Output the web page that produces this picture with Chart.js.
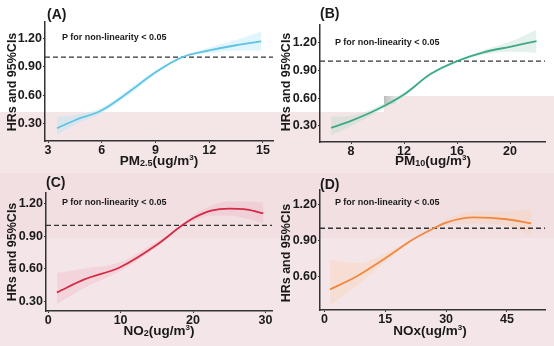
<!DOCTYPE html>
<html>
<head>
<meta charset="utf-8">
<script src="https://cdn.jsdelivr.net/npm/chart.js@4"></script>
<style>
    body { margin: 0; width: 554px; height: 346px; position: relative; overflow: hidden; background: #ffffff; font-family: 'Liberation Sans', Arial, sans-serif; }
    .bg { position: absolute; }
    canvas { position: absolute; }
    .txt { position: absolute; font-weight: bold; color: #1a1a1a; white-space: nowrap; line-height: 1; }
    .ytitle { font-size: 12.5px; transform: translate(-50%, -50%) rotate(-90deg); }
    .xtitle { font-size: 13.5px; transform: translate(-50%, -50%); }
    .xtitle sub { font-size: 9px; vertical-align: baseline; position: relative; top: 1px; }
    .xtitle sup { font-size: 8px; vertical-align: baseline; position: relative; top: -5px; }
    .tag { font-size: 14px; transform: translateY(-50%); }
    .pval { font-size: 9px; transform: translateY(-50%); }
</style>
</head>
<body>
<!-- fondo rosado de la imagen original -->
<div class="bg" style="left:0;top:112px;width:384px;height:61px;background:#f4e5e7"></div>
<div class="bg" style="left:384px;top:96px;width:170px;height:77px;background:#f4e5e7"></div>
<div class="bg" style="left:384px;top:96px;width:15px;height:8px;background:linear-gradient(90deg,#bdbdbd,#f2f2f2)"></div>
<div class="bg" style="left:0;top:173px;width:554px;height:65px;background:#f1dfe2"></div>
<div class="bg" style="left:0;top:238px;width:554px;height:108px;background:#f4e6e8"></div>

<canvas id="chartA" width="277" height="173" style="left:0;top:0"></canvas>
<canvas id="chartB" width="277" height="173" style="left:277px;top:0"></canvas>
<canvas id="chartC" width="277" height="173" style="left:0;top:173px"></canvas>
<canvas id="chartD" width="277" height="173" style="left:277px;top:173px"></canvas>

<div class="txt tag" style="left:47px;top:14px">(A)</div>
<div class="txt tag" style="left:320px;top:13px">(B)</div>
<div class="txt tag" style="left:46px;top:182px">(C)</div>
<div class="txt tag" style="left:320px;top:184px">(D)</div>

<div class="txt pval" style="left:62px;top:37px">P for non-linearity &lt; 0.05</div>
<div class="txt pval" style="left:335px;top:42px">P for non-linearity &lt; 0.05</div>
<div class="txt pval" style="left:62px;top:202px">P for non-linearity &lt; 0.05</div>
<div class="txt pval" style="left:335px;top:202px">P for non-linearity &lt; 0.05</div>

<div class="txt ytitle" style="left:12px;top:82px">HRs and 95%CIs</div>
<div class="txt ytitle" style="left:286px;top:82px">HRs and 95%CIs</div>
<div class="txt ytitle" style="left:12px;top:252px">HRs and 95%CIs</div>
<div class="txt ytitle" style="left:286px;top:253px">HRs and 95%CIs</div>

<div class="txt xtitle" style="left:159px;top:161px">PM<sub>2.5</sub>(ug/m<sup>3</sup>)</div>
<div class="txt xtitle" style="left:433px;top:161px">PM<sub>10</sub>(ug/m<sup>3</sup>)</div>
<div class="txt xtitle" style="left:159px;top:331px">NO<sub>2</sub>(ug/m<sup>3</sup>)</div>
<div class="txt xtitle" style="left:430px;top:331px">NOx(ug/m<sup>3</sup>)</div>

<script>
// PM2.5
const pm25X  = [3.5, 4.5, 6, 7.5, 9, 10.5, 12, 13.5, 14.9];
const pm25HR = [0.25, 0.335, 0.44, 0.63, 0.84, 1.0, 1.07, 1.125, 1.165];
const pm25Lo = [0.18, 0.29, 0.41, 0.60, 0.82, 1.0, 1.04, 1.07, 1.07];
const pm25Hi = [0.37, 0.39, 0.47, 0.66, 0.86, 1.0, 1.10, 1.18, 1.27];
const pm25XTicks = [3, 6, 9, 12, 15];

// PM10
const pm10X  = [6.5, 8, 10, 12, 14, 16, 18, 20, 22];
const pm10HR = [0.28, 0.355, 0.48, 0.64, 0.86, 1.0, 1.095, 1.155, 1.215];
const pm10Lo = [0.20, 0.30, 0.45, 0.62, 0.85, 1.0, 1.07, 1.10, 1.09];
const pm10Hi = [0.40, 0.41, 0.51, 0.66, 0.87, 1.0, 1.12, 1.21, 1.34];
const pm10XTicks = [8, 12, 16, 20];

// NO2
const no2X  = [1.2, 5, 10, 15, 18.5, 20, 22.5, 25, 27.5, 29.7];
const no2HR = [0.38, 0.50, 0.615, 0.82, 1.0, 1.065, 1.135, 1.155, 1.145, 1.11];
const no2Lo = [0.27, 0.42, 0.58, 0.80, 1.0, 1.04, 1.09, 1.09, 1.06, 1.02];
const no2Hi = [0.56, 0.60, 0.66, 0.85, 1.0, 1.09, 1.18, 1.22, 1.22, 1.21];
const no2XTicks = [0, 10, 20, 30];

// NOx
const noxX  = [1.4, 8, 15, 22, 27, 30, 37, 45, 51];
const noxHR = [0.49, 0.60, 0.75, 0.91, 1.0, 1.047, 1.09, 1.075, 1.04];
const noxLo = [0.36, 0.52, 0.72, 0.90, 1.0, 1.03, 1.04, 1.02, 0.94];
const noxHi = [0.74, 0.71, 0.79, 0.92, 1.0, 1.07, 1.14, 1.14, 1.16];
const noxXTicks = [0, 15, 30, 45];

const hrTicks = [0.30, 0.60, 0.90, 1.20];
const hrTicksD = [0.60, 0.90, 1.20];
const refValue = 1.0;

const FONT = "'Liberation Sans', Arial, sans-serif";

function pts(xs, ys) {
    return xs.map((x, i) => ({ x: x, y: ys[i] }));
}

//Funcion para dibujar un panel
function makePanel(id, cfg) {
    const ctx = document.getElementById(id).getContext('2d');
    new Chart(ctx, {
        type: 'line',
        data: {
            datasets: [
                {
                    data: pts(cfg.x, cfg.hr),
                    borderColor: cfg.line,
                    borderWidth: 1.8,
                    pointRadius: 0,
                    cubicInterpolationMode: 'monotone',
                    fill: false
                },
                {
                    data: [{ x: cfg.xmin, y: refValue }, { x: cfg.xmax, y: refValue }],
                    borderColor: '#333333',
                    borderWidth: 1.3,
                    borderDash: [5, 3],
                    pointRadius: 0,
                    fill: false
                },
                {
                    data: pts(cfg.x, cfg.lo),
                    borderWidth: 0,
                    pointRadius: 0,
                    cubicInterpolationMode: 'monotone',
                    fill: false
                },
                {
                    data: pts(cfg.x, cfg.hi),
                    borderWidth: 0,
                    pointRadius: 0,
                    cubicInterpolationMode: 'monotone',
                    backgroundColor: cfg.band,
                    fill: '-1'
                }
            ]
        },
        options: {
            responsive: false,
            animation: false,
            layout: { padding: { left: 0, top: cfg.top, right: cfg.right, bottom: 0 } },
            plugins: { legend: { display: false }, tooltip: { enabled: false } },
            scales: {
                x: {
                    type: 'linear',
                    min: cfg.xmin,
                    max: cfg.xmax,
                    afterFit: (s) => { s.height = cfg.xh; },
                    afterBuildTicks: (s) => { s.ticks = cfg.xticks.map(v => ({ value: v })); },
                    border: { display: true, color: '#333333', width: 1.5 },
                    grid: { drawOnChartArea: false, color: '#333333', tickLength: 2 },
                    ticks: { color: '#1a1a1a', padding: 0, maxRotation: 0, font: { family: FONT, size: 12.5, weight: 'bold' } }
                },
                y: {
                    type: 'linear',
                    min: cfg.ymin,
                    max: cfg.ymax,
                    afterFit: (s) => { s.width = cfg.yw; },
                    afterBuildTicks: (s) => { s.ticks = cfg.yticks.map(v => ({ value: v })); },
                    border: { display: true, color: '#333333', width: 1.5 },
                    grid: { drawOnChartArea: false, color: '#333333', tickLength: 2 },
                    ticks: { color: '#1a1a1a', padding: 1, callback: (v) => v.toFixed(2), font: { family: FONT, size: 12.5, weight: 'bold' } }
                }
            }
        }
    });
}

makePanel('chartA', {
    x: pm25X, hr: pm25HR, lo: pm25Lo, hi: pm25Hi, xticks: pm25XTicks, yticks: hrTicks,
    xmin: 2.83, xmax: 15.56, ymin: 0.116, ymax: 1.37,
    line: '#5ec4e6', band: 'rgba(170, 225, 245, 0.35)',
    top: 22, right: 4, yw: 45, xh: 32
});
makePanel('chartB', {
    x: pm10X, hr: pm10HR, lo: pm10Lo, hi: pm10Hi, xticks: pm10XTicks, yticks: hrTicks,
    xmin: 5.66, xmax: 22.64, ymin: 0.127, ymax: 1.39,
    line: '#3daa84', band: 'rgba(180, 215, 200, 0.35)',
    top: 25, right: 9, yw: 43, xh: 31
});
makePanel('chartC', {
    x: no2X, hr: no2HR, lo: no2Lo, hi: no2Hi, xticks: no2XTicks, yticks: hrTicks,
    xmin: -0.3, xmax: 30.9, ymin: 0.208, ymax: 1.299,
    line: '#d42a45', band: 'rgba(240, 175, 190, 0.33)',
    top: 20, right: 5, yw: 46, xh: 35
});
makePanel('chartD', {
    x: noxX, hr: noxHR, lo: noxLo, hi: noxHi, xticks: noxXTicks, yticks: hrTicksD,
    xmin: -1.1, xmax: 54.4, ymin: 0.318, ymax: 1.319,
    line: '#f0883e', band: 'rgba(250, 205, 175, 0.35)',
    top: 17, right: 9, yw: 43, xh: 36
});
</script>
</body>
</html>
